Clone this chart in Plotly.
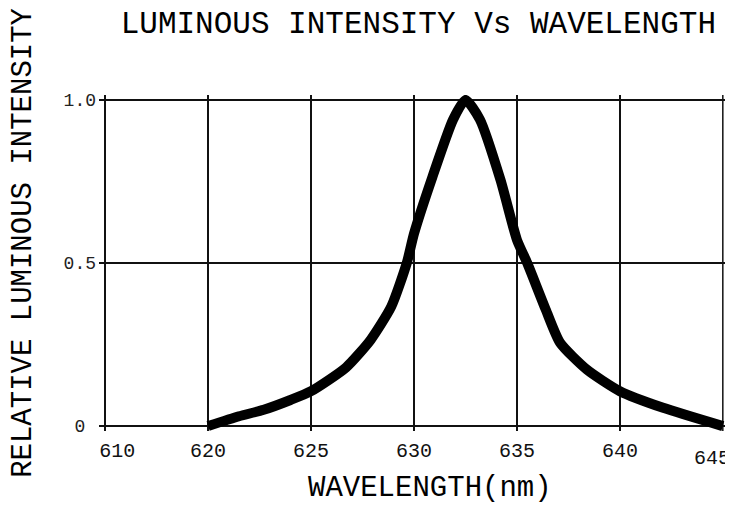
import plotly.graph_objects as go

wavelength = [620, 621.5, 622.7, 624, 625, 626.7, 627.9, 628.9, 629.65, 630, 630.9, 631.9, 632.5,
              633.2, 634.2, 635, 635.5, 636.4, 637.1, 638.4, 640, 642.1, 645]
intensity = [0, 0.03, 0.05, 0.08, 0.107, 0.18, 0.265, 0.367, 0.5, 0.59, 0.765, 0.94, 1.0,
             0.94, 0.755, 0.571, 0.5, 0.357, 0.255, 0.173, 0.107, 0.056, 0]

x_tickvals = [615, 620, 625, 630, 635, 640, 645]
x_ticktext = ["610", "620", "625", "630", "635", "640", "645"]
y_tickvals = [0, 0.5, 1.0]
y_ticktext = ["0", "0.5", "1.0"]

title_text = "LUMINOUS INTENSITY Vs WAVELENGTH"
x_title = "WAVELENGTH(nm)"
y_title = "RELATIVE LUMINOUS INTENSITY"

FONT = "Liberation Mono"
TICK_FONT = dict(family=FONT, size=20, color="#111")


def pad(n):
    # invisible padding characters (same width as digits in a monospace font)
    return "<span style='color:rgba(0,0,0,0)'>" + "0" * n + "</span>"


# label alignment tweaks (as in the original drawing); the last label sits
# flush with the right edge, so it is placed as a right-anchored annotation
x_labels = list(x_ticktext[:-1])
x_labels[0] = pad(2) + x_labels[0]
y_labels = [t + pad(1) if len(t) == 1 else t for t in y_ticktext]

fig = go.Figure()
fig.add_trace(go.Scatter(x=wavelength, y=intensity, mode="lines",
                         line=dict(color="black", width=10, shape="spline", smoothing=0.6),
                         showlegend=False, hoverinfo="skip"))

fig.update_layout(
    width=725, height=498,
    margin=dict(l=91, r=4, t=87, b=75, autoexpand=False),
    paper_bgcolor="white", plot_bgcolor="white",
    title=dict(text=title_text, x=0.566, xref="container", xanchor="center",
               y=0.972, yref="container", yanchor="middle",
               font=dict(family=FONT, size=31, color="black")),
    xaxis=dict(range=[614.7, 645.3], tickvals=x_tickvals[:-1], ticktext=x_labels,
               showgrid=True, gridcolor="#111", gridwidth=1.5, zeroline=False,
               showline=False, ticks="", ticklabelstandoff=5, automargin=False,
               ticklabeloverflow="allow", tickfont=TICK_FONT),
    yaxis=dict(range=[-0.015, 1.015], tickvals=y_tickvals, ticktext=y_labels,
               showgrid=True, gridcolor="#111", gridwidth=1.5, zeroline=False,
               showline=False, ticks="", ticklabelstandoff=2, automargin=False,
               ticklabeloverflow="allow",
               tickfont=dict(family=FONT, size=18, color="#222")),
    shapes=[dict(type="line", xref="x", yref="paper", x0=x_tickvals[-1], x1=x_tickvals[-1],
                 y0=0, y1=1, line=dict(color="#111", width=1.5), layer="below")],
    annotations=[
        dict(text=x_ticktext[-1], x=x_tickvals[-1], y=0, xref="x", yref="paper",
             xanchor="right", yanchor="top", xshift=9, yshift=-14,
             showarrow=False, font=TICK_FONT),
        dict(text=y_title, x=-0.119, y=0.56, xref="paper", yref="paper",
             textangle=-90, showarrow=False, xanchor="center", yanchor="middle",
             font=dict(family=FONT, size=29, color="black")),
        dict(text=x_title, x=0.525, y=-0.172, xref="paper", yref="paper",
             showarrow=False, xanchor="center", yanchor="middle",
             font=dict(family=FONT, size=29, color="black")),
    ],
)

fig.write_html("out.html")
